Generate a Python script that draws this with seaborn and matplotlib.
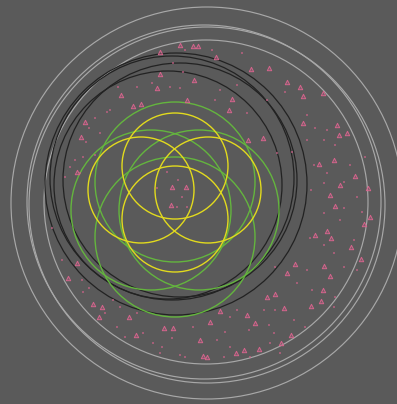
import numpy as np
import pandas as pd
import matplotlib
matplotlib.use("Agg")
import matplotlib.pyplot as plt
from matplotlib.patches import Circle
import seaborn as sns

# ── circle groups: centre x, centre y, radius (picture units) ────────────────
gray_cx = [207, 204, 207, 206]
gray_cy = [203, 202, 205, 202]
gray_r  = [196, 177, 178, 162]

black_cx = [176, 172, 180, 168]
black_cy = [184, 178, 180, 185]
black_r  = [131, 122, 117, 114]

green_cx = [175, 175, 151, 199]
green_cy = [182, 237, 210, 210]
green_r  = [80, 80, 80, 80]

yellow_cx = [175, 175, 141, 208]
yellow_cy = [166, 219, 190, 190]
yellow_r  = [53, 53, 53, 53]

# ── pink triangles ───────────────────────────────────────────────────────────
tri_x = [180, 193, 198, 216, 160, 251, 269, 160, 194, 157, 287, 300, 303, 323,
         121, 133, 141, 187, 232, 229, 85, 303, 81, 337, 347, 339, 263, 248,
         319, 334, 77, 355, 340, 368, 330, 172, 186, 171, 335, 370, 364, 315,
         327, 331, 351, 361, 295, 77, 287, 324, 330, 68, 323, 267, 275, 321,
         311, 93, 102, 284, 220, 99, 129, 247, 255, 210, 136, 164, 173, 291,
         281, 200, 259, 244, 236, 203, 207]
tri_y = [45, 46, 46, 57, 52, 69, 68, 74, 80, 88, 82, 87, 96, 93,
         95, 106, 104, 100, 99, 110, 122, 123, 137, 125, 133, 135, 138, 140,
         164, 160, 172, 176, 185, 188, 195, 187, 187, 205, 206, 217, 224, 235,
         231, 238, 247, 259, 264, 263, 273, 266, 276, 278, 290, 297, 294, 301,
         306, 304, 307, 308, 311, 317, 317, 315, 323, 322, 335, 328, 328, 335,
         343, 340, 349, 350, 353, 356, 357]

# ── small pink specks ────────────────────────────────────────────────────────
dot_x = [185, 173, 183, 170, 180, 152, 137, 118, 110, 107, 95, 89, 100, 86,
         95, 83, 75, 80, 70, 65, 212, 242, 237, 220, 215, 247, 267, 285, 307,
         315, 327, 324, 335, 307, 277, 292, 314, 327, 350, 365, 344, 357, 311,
         324, 52, 62, 82, 89, 83, 113, 120, 105, 137, 117, 125, 143, 153, 162,
         172, 180, 185, 193, 160, 344, 362, 324, 340, 310, 324, 354, 334, 344,
         357, 275, 307, 297, 312, 335, 334, 264, 275, 294, 305, 230, 237, 249,
         269, 274, 225, 217, 230, 250, 224, 270, 280, 178, 167, 157, 182, 177,
         187]
dot_y = [50, 63, 72, 87, 88, 83, 87, 87, 110, 112, 118, 128, 133, 142,
         155, 157, 160, 173, 167, 177, 50, 53, 85, 90, 100, 113, 100, 92, 115,
         128, 130, 140, 145, 140, 153, 152, 165, 173, 165, 157, 182, 197, 190,
         183, 228, 260, 280, 288, 292, 300, 307, 313, 313, 327, 337, 333, 343, 347,
         338, 355, 357, 327, 353, 208, 212, 213, 220, 238, 245, 240, 253, 267,
         270, 267, 270, 283, 290, 297, 307, 310, 310, 320, 327, 317, 310, 330,
         325, 333, 332, 340, 347, 357, 357, 343, 353, 180, 172, 188, 197, 207,
         207]

BG = "#5a5a5a"
PINK = "#d4648c"

sns.set_style("white")
fig = plt.figure(figsize=(3.97, 4.04), dpi=100, facecolor=BG)
ax = fig.add_axes([0, 0, 1, 1])
ax.set_facecolor(BG)

groups = [
    (gray_cx, gray_cy, gray_r, "#a8a8a8", 0.85),
    (black_cx, black_cy, black_r, "#222222", 0.9),
    (green_cx, green_cy, green_r, "#64b53e", 1.0),
    (yellow_cx, yellow_cy, yellow_r, "#e2da1e", 1.0),
]
for cx, cy, rr, col, lw in groups:
    for x, y, r in zip(cx, cy, rr):
        ax.add_patch(Circle((x, y), r, fill=False, ec=col, lw=lw))

dots = pd.DataFrame({"x": dot_x, "y": dot_y})
tris = pd.DataFrame({"x": tri_x, "y": tri_y})
sns.scatterplot(data=dots, x="x", y="y", ax=ax, marker="s", s=1.3,
                color=PINK, edgecolor="none", alpha=0.6, legend=False)
sns.scatterplot(data=tris, x="x", y="y", ax=ax, marker="^", s=10,
                facecolor=(0.83, 0.39, 0.55, 0.3), edgecolor=PINK,
                linewidth=0.7, legend=False)

ax.set_xlim(0, 397)
ax.set_ylim(404, 0)
ax.set_aspect("auto")
ax.axis("off")
fig.savefig("out.png", dpi=100, facecolor=BG)
